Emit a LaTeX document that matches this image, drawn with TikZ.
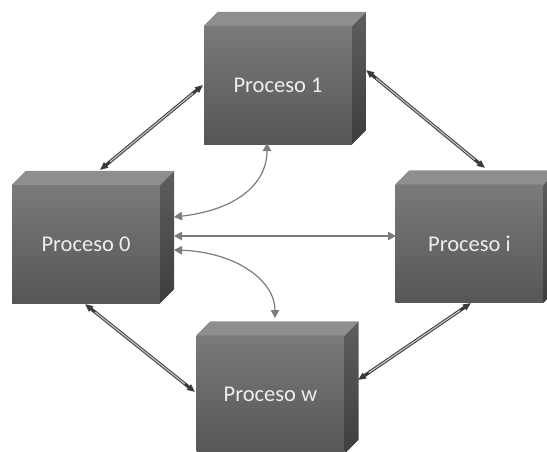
\documentclass[tikz,border=0pt]{standalone}
\usepackage{fontspec}
\setmainfont{Carlito}
\usetikzlibrary{arrows.meta,calc}
\definecolor{frontTop}{HTML}{7A7A7A}
\definecolor{frontBot}{HTML}{565656}
\definecolor{topFace}{HTML}{8E8E8E}
\definecolor{sideTop}{HTML}{5E5E5E}
\definecolor{sideBot}{HTML}{3E3E3E}
\definecolor{txt}{HTML}{EEEEEE}
\definecolor{grayArrow}{HTML}{7C7C7C}
\definecolor{darkArrow}{HTML}{3A3A3A}
\definecolor{innerLine}{HTML}{C4C4C4}
\tikzset{
  proc/.style={rectangle, minimum width=148pt, minimum height=118pt, inner sep=0pt,
    top color=frontTop, bottom color=frontBot, draw=none,
    text=txt, font=\fontsize{22.5}{24}\selectfont},
  topface/.style={fill=topFace},
  sideface/.style={top color=sideTop, bottom color=sideBot},
  grayconn/.style={draw=grayArrow, line width=1.2pt,
    {Triangle[length=8pt,width=8.5pt]}-{Triangle[length=8pt,width=8.5pt]}},
  darkconn/.style={draw=darkArrow, line width=3.2pt,
    {Triangle[length=8pt,width=6.5pt]}-{Triangle[length=8pt,width=6.5pt]}},
  innerconn/.style={draw=innerLine, line width=1.2pt, shorten <=13pt, shorten >=13pt}
}
\newcommand{\boxfaces}[1]{%
  \path[topface] (#1.north west) -- ++(14,-14) -- ($(#1.north east)+(14,-14)$) -- (#1.north east) -- cycle;
  \path[sideface] (#1.north east) -- ++(14,-14) -- ($(#1.south east)+(14,-14)$) -- (#1.south east) -- cycle;
}
\begin{document}
\begin{tikzpicture}[x=1pt,y=-1pt]
\useasboundingbox (0,0) rectangle (547,451);
\node[proc] (p1) at (278,85) {Proceso 1};
\node[proc] (p0) at (86,244) {Proceso 0};
\node[proc] (pi) at (469.5,243.5) {Proceso i};
\node[proc] (pw) at (270.5,394.5) {Proceso w};
\boxfaces{p1}
\boxfaces{p0}
\boxfaces{pi}
\boxfaces{pw}
% connector end points on the boxes
\coordinate (c0a) at (100,170);
\coordinate (c1a) at (203,85);
\coordinate (c1b) at (366,70);
\coordinate (cia) at (485,168);
\coordinate (c0b) at (85,304);
\coordinate (cwa) at (195,392);
\coordinate (cwb) at (358,380);
\coordinate (cib) at (471,303);
\coordinate (c0r1) at (174,217);
\coordinate (c0r2) at (174,236);
\coordinate (c0r3) at (174,250);
\coordinate (c1bot) at (267,143);
\coordinate (cileft) at (396,236);
\coordinate (cwtop) at (275,318);
% double connectors
\foreach \a/\b in {c0a/c1a, c1b/cia, c0b/cwa, cwb/cib}{
  \draw[darkconn] (\a) -- (\b);
  \draw[innerconn] (\a) -- (\b);
}
% gray connectors
\draw[grayconn] (c0r1) .. controls (235,210) and (267,185) .. (c1bot);
\draw[grayconn] (c0r2) -- (cileft);
\draw[grayconn] (c0r3) .. controls (235,252) and (275,280) .. (cwtop);
\end{tikzpicture}
\end{document}
